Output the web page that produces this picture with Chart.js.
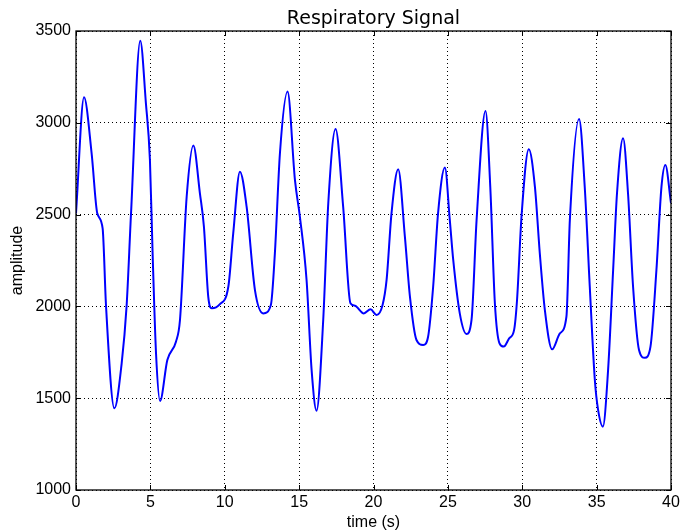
<!DOCTYPE html>
<html>
<head>
<meta charset="utf-8">
<script src="https://cdn.jsdelivr.net/npm/chart.js@4/dist/chart.umd.min.js"></script>
<style>
    html, body { margin: 0; padding: 0; background: #fff; }
    #box { width: 680px; height: 531px; }
</style>
</head>
<body>
<div id="box"><canvas id="respChart"></canvas></div>
<script>
// time (s) and amplitude
const timeSec = [0, 0.54, 1.05, 1.43, 1.79, 2.02, 2.58, 3.07, 3.4, 3.7, 4.32, 4.7, 4.97, 5.15, 5.38, 5.65,
    6.14, 6.72, 6.99, 7.44, 7.89, 8.33, 8.6, 8.89, 9.13, 9.66, 10.24, 10.57, 11.02, 11.47, 12.03, 12.59,
    13.1, 13.37, 13.71, 14.22, 14.72, 15.05, 15.5, 15.84, 16.17, 16.62, 16.96, 17.45, 17.96, 18.45,
    18.75, 19.35, 19.8, 20.2, 20.61, 20.88, 21.21, 21.66, 22.11, 22.45, 22.89, 23.34, 23.67, 24.01,
    24.34, 24.8, 25.13, 25.36, 25.8, 26.25, 26.59, 26.93, 27.53, 27.85, 28.16, 28.47, 28.76, 29.12,
    29.45, 29.65, 29.95, 30.44, 30.85, 31.18, 31.52, 32.01, 32.53, 32.97, 33.2, 33.82, 34.2, 34.54,
    34.88, 35.1, 35.42, 35.77, 36.11, 36.37, 36.78, 37.11, 37.45, 37.85, 38.24, 38.62, 39.02, 39.36,
    39.62, 40];
const amplitude = [2507, 3139, 2834, 2507, 2425, 2000, 1445, 1690, 2000, 2507, 3447, 3106, 2797, 2289, 1744, 1485,
    1708, 1808, 1926, 2597, 2877, 2616, 2434, 2053, 1990, 2011, 2107, 2398, 2734, 2543, 2089, 1962,
    2008, 2289, 2834, 3170, 2688, 2489, 2144, 1653, 1432, 1926, 2562, 2966, 2543, 2017,
    2004, 1962, 1984, 1953, 2008, 2144, 2507, 2747, 2380, 2053, 1817, 1790, 1835, 2107,
    2507, 2756, 2470, 2253, 1962, 1850, 1926, 2470, 3064, 2652, 2017, 1799, 1781, 1826,
    1871, 2035, 2489, 2856, 2652, 2289, 1980, 1766, 1853, 1944, 2470, 3021, 2652, 2107,
    1599, 1436, 1345, 1653, 2198, 2616, 2916, 2616, 2107, 1762, 1720, 1781, 2198, 2652,
    2770, 2562];
const xTicks = [0, 5, 10, 15, 20, 25, 30, 35, 40];
const yTicks = [1000, 1500, 2000, 2500, 3000, 3500];

const tickFont = { family: 'Liberation Sans', size: 16, lineHeight: 1 };

// matplotlib style inward tick marks on all four sides
const innerTicks = {
    id: 'innerTicks',
    afterDatasetsDraw(chart) {
        const { ctx, chartArea: a, scales } = chart;
        ctx.save();
        ctx.strokeStyle = '#000';
        ctx.lineWidth = 1;
        ctx.beginPath();
        xTicks.forEach(v => {
            const x = Math.round(scales.x.getPixelForValue(v)) + 0.5;
            ctx.moveTo(x, a.bottom); ctx.lineTo(x, a.bottom - 5);
            ctx.moveTo(x, a.top); ctx.lineTo(x, a.top + 5);
        });
        yTicks.forEach(v => {
            const y = Math.round(scales.y.getPixelForValue(v)) + 0.5;
            ctx.moveTo(a.left, y); ctx.lineTo(a.left + 5, y);
            ctx.moveTo(a.right, y); ctx.lineTo(a.right - 5, y);
        });
        ctx.stroke();
        ctx.lineWidth = 1.3;
        ctx.strokeRect(a.left, a.top, a.right - a.left, a.bottom - a.top);
        ctx.restore();
    }
};

const respChart = new Chart(document.getElementById('respChart'), {
    type: 'line',
    data: {
        datasets: [{
            data: timeSec.map((t, i) => ({ x: t, y: amplitude[i] })),
            borderColor: '#0000ff',
            borderWidth: 2,
            pointRadius: 0,
            fill: false,
            cubicInterpolationMode: 'monotone',
        }],
    },
    options: {
        responsive: true,
        maintainAspectRatio: false,
        animation: false,
        layout: { padding: { left: 0, right: 9, top: 0, bottom: 0 } },
        plugins: {
            legend: { display: false },
            tooltip: { enabled: false },
            title: {
                display: true,
                text: 'Respiratory Signal',
                fullSize: false,
                color: '#000',
                font: { family: 'DejaVu Sans', size: 19, weight: 'normal', lineHeight: 1 },
                padding: { top: 10, bottom: 2 },
            },
        },
        scales: {
            x: {
                type: 'linear',
                min: 0,
                max: 40,
                afterBuildTicks: (scale) => { scale.ticks = xTicks.map(v => ({ value: v })); },
                afterFit: (scale) => {
                    scale.height = 41;
                    scale.paddingLeft = 0;
                    scale.paddingRight = 0;
                },
                border: { display: false, dash: [1, 3] },
                grid: { color: '#000', lineWidth: 1, drawTicks: false },
                ticks: { color: '#000', font: tickFont, padding: 5, maxRotation: 0 },
                title: {
                    display: true,
                    text: 'time (s)',
                    color: '#000',
                    font: tickFont,
                    padding: { top: 2, bottom: 0 },
                },
            },
            y: {
                min: 1000,
                max: 3500,
                afterBuildTicks: (scale) => { scale.ticks = yTicks.map(v => ({ value: v })); },
                afterFit: (scale) => { scale.width = 76; },
                border: { display: false, dash: [1, 3] },
                grid: { color: '#000', lineWidth: 1, drawTicks: false },
                ticks: { color: '#000', font: tickFont, padding: 5, callback: (v) => String(v) },
                title: {
                    display: true,
                    text: 'amplitude',
                    color: '#000',
                    font: tickFont,
                    padding: { top: 10, bottom: 0 },
                },
            },
        },
    },
    plugins: [innerTicks],
});
</script>
</body>
</html>
